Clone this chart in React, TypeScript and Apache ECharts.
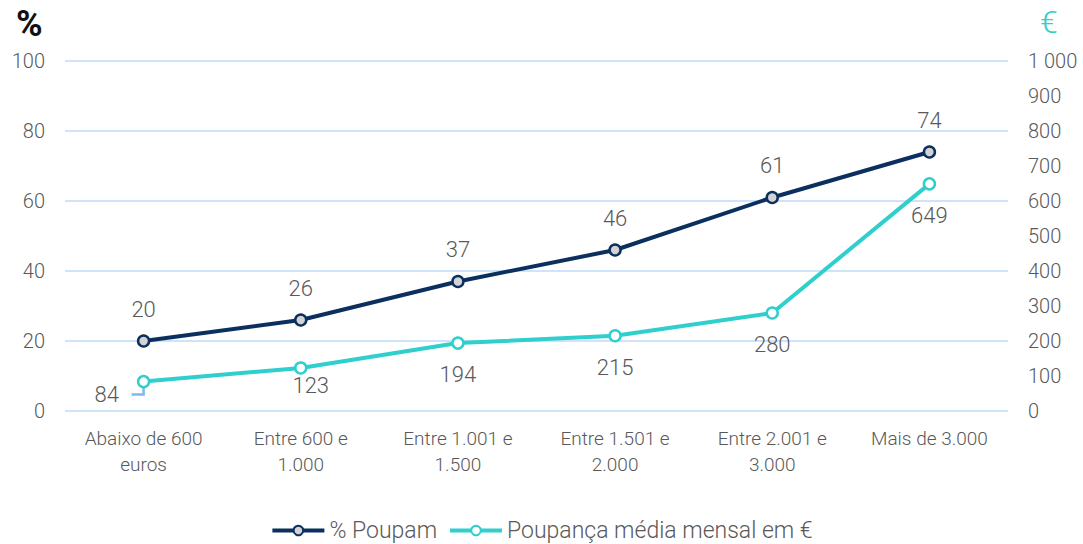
import React, { useEffect, useRef } from "react";
import * as echarts from "echarts";

const categories = [
  "Abaixo de 600\neuros",
  "Entre 600 e\n1.000",
  "Entre 1.001 e\n1.500",
  "Entre 1.501 e\n2.000",
  "Entre 2.001 e\n3.000",
  "Mais de 3.000",
];
const poupamPct = [20, 26, 37, 46, 61, 74];
const poupancaMedia = [84, 123, 194, 215, 280, 649];
const seriesNames = ["% Poupam", "Poupança média mensal em €"];

const FONT = "Roboto";
const GREY = "#595959";
const NAVY = "#0b2f5e";
const TEAL = "#2ecfcc";
const GRID = "#cfe4fa";

export default function App() {
  const ref = useRef<HTMLDivElement>(null);
  useEffect(() => {
    if (!ref.current) return;
    const chart = echarts.init(ref.current, null, { renderer: "svg" });
    const titles = [
      {
        type: "text",
        left: 16,
        top: 6,
        style: { text: "%", fontSize: 36, fontWeight: "bold", fill: "#111", fontFamily: FONT },
      },
      {
        type: "text",
        left: 1040,
        top: 6,
        style: { text: "€", fontSize: 32, fontWeight: 300, fill: TEAL, fontFamily: FONT },
      },
    ];
    const option: any = {
      animation: false,
      textStyle: { fontFamily: FONT, fontWeight: 300 },
      grid: { left: 65, right: 75, top: 61, bottom: 133, containLabel: false },
      legend: {
        bottom: -3,
        left: "center",
        itemWidth: 52,
        itemHeight: 12,
        itemGap: 11,
        lineStyle: { width: 4 },
        textStyle: { color: GREY, fontSize: 23, fontFamily: FONT, fontWeight: 300 },
        data: seriesNames,
      },
      graphic: titles,
      xAxis: {
        type: "category",
        data: categories,
        boundaryGap: true,
        axisLine: { show: false },
        axisTick: { show: false },
        axisLabel: {
          color: GREY,
          fontSize: 19,
          lineHeight: 26,
          margin: 14,
          interval: 0,
          fontFamily: FONT,
          fontWeight: 300,
        },
      },
      yAxis: [
        {
          type: "value",
          min: 0,
          max: 100,
          interval: 20,
          axisLine: { show: false },
          axisTick: { show: false },
          splitLine: { lineStyle: { color: GRID, width: 2 } },
          axisLabel: { color: GREY, fontSize: 20, margin: 20, fontFamily: FONT, fontWeight: 300 },
        },
        {
          type: "value",
          min: 0,
          max: 1000,
          interval: 100,
          axisLine: { show: false },
          axisTick: { show: false },
          splitLine: { show: false },
          axisLabel: {
            color: GREY,
            fontSize: 20,
            margin: 20,
            fontFamily: FONT,
            fontWeight: 300,
            formatter: (v: number) => (v >= 1000 ? "1 000" : String(v)),
          },
        },
      ],
      series: [
        {
          name: seriesNames[0],
          type: "line",
          yAxisIndex: 0,
          data: poupamPct,
          symbol: "circle",
          symbolSize: 11,
          lineStyle: { color: NAVY, width: 4 },
          itemStyle: { color: "#d3d3d3", borderColor: NAVY, borderWidth: 2.5 },
          label: {
            show: true,
            position: "top",
            distance: 14,
            color: GREY,
            fontSize: 22,
            fontFamily: FONT,
            fontWeight: 300,
          },
          z: 3,
        },
        {
          name: seriesNames[1],
          type: "line",
          yAxisIndex: 1,
          data: poupancaMedia.map((v, i) => {
            if (i === 0) {
              return { value: v, label: { position: "left", distance: 18, offset: [0, 13] } };
            }
            if (i === 1) {
              return { value: v, label: { position: "bottom", distance: 0, offset: [10, 0] } };
            }
            return v;
          }),
          symbol: "circle",
          symbolSize: 11,
          lineStyle: { color: TEAL, width: 4 },
          itemStyle: { color: "#ffffff", borderColor: TEAL, borderWidth: 2.5 },
          label: {
            show: true,
            position: "bottom",
            distance: 14,
            color: GREY,
            fontSize: 22,
            fontFamily: FONT,
            fontWeight: 300,
          },
          z: 2,
        },
      ],
    };
    chart.setOption(option);
    const p = chart.convertToPixel({ seriesIndex: 1 }, [0, poupancaMedia[0]]) as number[];
    if (p) {
      chart.setOption({
        graphic: [
          ...titles,
          {
            type: "polyline",
            z: 1,
            shape: { points: [[p[0], p[1] + 5], [p[0], p[1] + 13], [p[0] - 12, p[1] + 13]] },
            style: { stroke: "#7fb8f0", lineWidth: 2.5, fill: null },
          },
        ],
      });
    }
    return () => chart.dispose();
  }, []);
  return (
    <div
      ref={ref}
      style={{ position: "absolute", left: 0, top: 0, width: 1083, height: 544 }}
    />
  );
}
